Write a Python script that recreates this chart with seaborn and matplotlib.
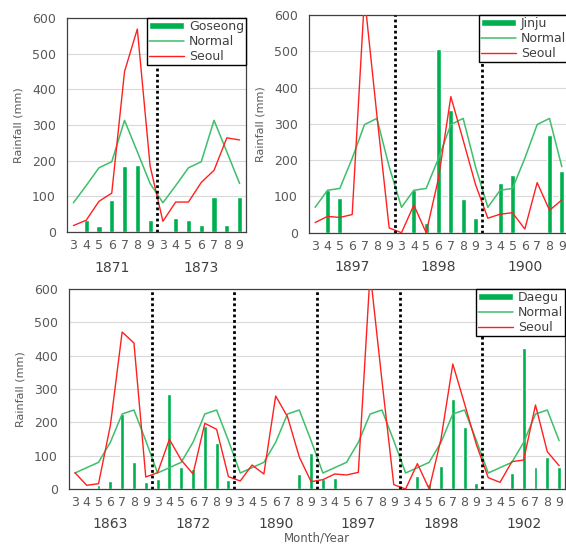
import numpy as np
import pandas as pd
import matplotlib
matplotlib.use("Agg")
import matplotlib.pyplot as plt
import matplotlib.transforms as mtransforms
import seaborn as sns

months = [3, 4, 5, 6, 7, 8, 9]

# Seoul rainfall (mm) by year, months 3-9
seoul = {
    1863: [49, 11, 16, 190, 471, 438, 36],
    1871: [18, 33, 86, 109, 450, 569, 185],
    1872: [49, 149, 87, 45, 197, 179, 37],
    1873: [30, 84, 84, 139, 173, 264, 258],
    1890: [24, 72, 45, 279, 217, 96, 22],
    1897: [28, 45, 42, 50, 650, 325, 13],
    1898: [0, 76, 0, 150, 375, 255, 133],
    1900: [40, 51, 55, 10, 138, 62, 90],
    1902: [34, 20, 82, 87, 252, 112, 70],
}

goseong_years = [1871, 1873]
goseong_rain = [0, 35, 16, 91, 184, 189, 33,
                0, 39, 33, 21, 99, 21, 99]
goseong_normal = [82, 130, 180, 197, 313, 225, 136]

jinju_years = [1897, 1898, 1900]
jinju_rain = [0, 118, 95, 0, 0, 0, 0,
              0, 118, 28, 505, 338, 92, 40,
              0, 138, 158, 0, 0, 268, 170]
jinju_normal = [70, 117, 122, 205, 298, 315, 182]

daegu_years = [1863, 1872, 1890, 1897, 1898, 1902]
daegu_rain = [0, 0, 11, 25, 225, 82, 21,
              30, 285, 67, 59, 189, 137, 28,
              0, 0, 0, 0, 0, 45, 109,
              30, 33, 0, 0, 0, 0, 0,
              0, 39, 14, 70, 270, 187, 17,
              0, 0, 48, 422, 67, 95, 67]
daegu_normal = [48, 64, 80, 140, 225, 237, 145]

BAR = "#00B050"
NORMAL = "#3EBF6A"
RED = "#FF2020"
GRAY = "#595959"

sns.set_style("white")
plt.rcParams["font.family"] = ["DejaVu Sans"]


def draw_panel(ax, years, rain, normal, name, bar_width, year_y):
    n = len(years) * len(months)
    df = pd.DataFrame({
        "pos": np.arange(n),
        "rain": rain,
        "normal": normal * len(years),
        "seoul": sum((seoul[y] for y in years), []),
    })
    sns.barplot(data=df, x="pos", y="rain", color=BAR, saturation=1,
                width=bar_width, label=name, ax=ax, zorder=2)
    sns.lineplot(data=df, x="pos", y="normal", color=NORMAL, linewidth=1.1,
                 label="Normal", ax=ax, zorder=3)
    sns.lineplot(data=df, x="pos", y="seoul", color=RED, linewidth=1.0,
                 label="Seoul", ax=ax, zorder=3)

    for k in range(1, len(years)):
        ax.axvline(k * 7 - 0.5, color="black", linestyle=(0, (1, 1)),
                   linewidth=2, zorder=4)

    ax.set_xlim(-0.5, n - 0.5)
    ax.set_ylim(0, 600)
    ax.set_yticks(range(0, 601, 100))
    ax.yaxis.grid(True, color="#D9D9D9", linewidth=0.8)
    ax.set_axisbelow(True)

    ax.set_xticks(np.arange(n + 1) - 0.5)
    ax.set_xticklabels([])
    ax.set_xticks(np.arange(n), minor=True)
    ax.set_xticklabels(months * len(years), minor=True)
    ax.tick_params(axis="x", which="major", length=4, width=0.8,
                   color="#404040", direction="out")
    ax.tick_params(axis="x", which="minor", length=0, pad=5,
                   labelsize=9, labelcolor=GRAY)
    ax.tick_params(axis="y", length=0, pad=8, labelsize=9, labelcolor=GRAY)

    trans = mtransforms.blended_transform_factory(ax.transData, ax.transAxes)
    for k, y in enumerate(years):
        ax.text(k * 7 + 3, year_y, str(y), transform=trans, ha="center",
                va="center", fontsize=10, color="#404040")

    ax.set_xlabel("")
    ax.set_ylabel("Rainfall (mm)", fontsize=8, color=GRAY, labelpad=6)
    for s in ax.spines.values():
        s.set_color("#404040")
        s.set_linewidth(0.9)

    h, l = ax.get_legend_handles_labels()
    order = [l.index(name), l.index("Normal"), l.index("Seoul")]
    leg = ax.legend([h[i] for i in order], [l[i] for i in order],
                    loc="upper right", fontsize=9, frameon=True,
                    fancybox=False, framealpha=1, edgecolor="black",
                    borderaxespad=0, borderpad=0.15, labelspacing=0.15,
                    handlelength=2.8, handleheight=0.45, handletextpad=0.4)
    leg.set_zorder(5)
    leg.get_frame().set_linewidth(1.0)
    for t in leg.get_texts():
        t.set_color("#404040")


fig = plt.figure(figsize=(5.66, 5.46), dpi=100)
ax1 = fig.add_axes([67 / 566, 1 - 232 / 546, 179 / 566, 214 / 546])
ax2 = fig.add_axes([309 / 566, 1 - 232.7 / 546, 259 / 566, 217.7 / 546])
ax3 = fig.add_axes([69 / 566, 1 - 489 / 546, 496 / 566, 200 / 546])

draw_panel(ax1, goseong_years, goseong_rain, goseong_normal, "Goseong", 0.4, -0.168)
draw_panel(ax2, jinju_years, jinju_rain, jinju_normal, "Jinju", 0.38, -0.158)
draw_panel(ax3, daegu_years, daegu_rain, daegu_normal, "Daegu", 0.33, -0.175)
fig.text(317 / 566, 1 - 538 / 546, "Month/Year", ha="center", va="center",
         fontsize=8.5, color=GRAY)

fig.savefig("out.png", dpi=100)
